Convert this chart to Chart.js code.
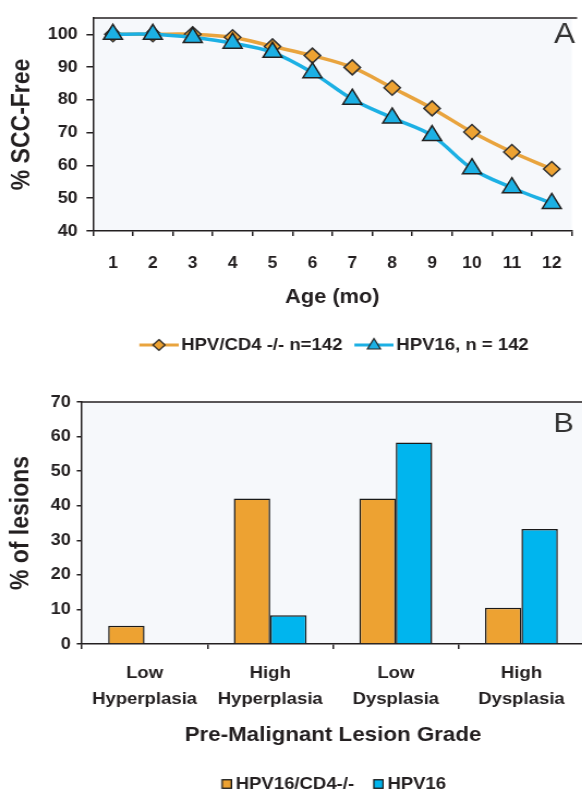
<!DOCTYPE html>
<html>
<head>
<meta charset="utf-8">
<script src="https://cdn.jsdelivr.net/npm/chart.js@4.4.1/dist/chart.umd.min.js"></script>
<style>
  html, body { margin: 0; padding: 0; background: #fff; overflow: hidden; width: 582px; height: 792px; }
  .panel { position: absolute; left: 0; transform: scaleX(1.09); transform-origin: 0 0; }
  #panelA { top: 0; }
  #panelB { top: 365px; }
</style>
</head>
<body>
<div class="panel" id="panelA"><canvas id="chartA" width="536" height="365"></canvas></div>
<div class="panel" id="panelB"><canvas id="chartB" width="536" height="438"></canvas></div>
<script>
// panel A - survival curves
const ages = ['1', '2', '3', '4', '5', '6', '7', '8', '9', '10', '11', '12'];
const cd4Free = [100, 100, 100, 99.1, 96.3, 93.5, 89.9, 83.7, 77.4, 70.2, 64.1, 58.9];
const hpv16Free = [100, 100, 99, 97.3, 94.5, 88.3, 80.2, 74.5, 69.1, 59, 53.2, 48.4];

// panel B - lesion grades
const grades = [['Low', 'Hyperplasia'], ['High', 'Hyperplasia'], ['Low', 'Dysplasia'], ['High', 'Dysplasia']];
const cd4Lesions = [5.3, 42.1, 42.1, 10.5];
const hpv16Lesions = [0, 8.3, 58.3, 33.3];

const ORANGE = '#eda232';
const ORANGE_LINE = '#e9a43e';
const BLUE = '#1cb0e4';
const BLUE_BAR = '#00b5ee';
const INK = '#231f20';

Chart.defaults.font.family = "'Liberation Sans', Arial, sans-serif";
Chart.defaults.font.weight = 'bold';
Chart.defaults.font.size = 16;
Chart.defaults.color = INK;

// plot background, top frame line and the panel letter
const frame = {
    id: 'frame',
    beforeDraw(chart) {
        const {ctx, chartArea: a} = chart;
        ctx.save();
        ctx.fillStyle = '#f6f8fb';
        ctx.fillRect(a.left, a.top, a.right - a.left, a.bottom - a.top);
        ctx.restore();
    },
    beforeDatasetsDraw(chart) {
        const {ctx, chartArea: a} = chart;
        ctx.save();
        ctx.strokeStyle = INK;
        ctx.lineWidth = 1.5;
        ctx.beginPath();
        ctx.moveTo(a.left, a.top);
        ctx.lineTo(a.right + 5, a.top);
        ctx.stroke();
        ctx.restore();
    },
    afterDraw(chart, args, opts) {
        const ctx = chart.ctx;
        ctx.save();
        ctx.font = `normal ${opts.size}px 'Liberation Sans', Arial, sans-serif`;
        ctx.fillStyle = '#333';
        ctx.textAlign = 'center';
        ctx.textBaseline = 'alphabetic';
        ctx.fillText(opts.letter, opts.x, opts.y);
        ctx.restore();
    }
};

// legend icons, drawn in the right part of the image so they sit close to the text
const makeIcon = (color, fill, shape) => {
    const c = document.createElement('canvas');
    c.width = 45; c.height = 16;
    const g = c.getContext('2d');
    g.strokeStyle = color;
    g.lineWidth = 3;
    g.beginPath(); g.moveTo(9, 8); g.lineTo(45, 8); g.stroke();
    g.fillStyle = fill;
    g.strokeStyle = '#222';
    g.lineWidth = 1.2;
    g.beginPath();
    if (shape === 'diamond') {
        g.moveTo(27, 2.5); g.lineTo(32.5, 8); g.lineTo(27, 13.5); g.lineTo(21.5, 8);
    } else {
        g.moveTo(27, 1.5); g.lineTo(33, 12); g.lineTo(21, 12);
    }
    g.closePath(); g.fill(); g.stroke();
    return c;
};
const makeSwatch = (fill) => {
    const c = document.createElement('canvas');
    c.width = 16; c.height = 10;
    const g = c.getContext('2d');
    g.fillStyle = fill;
    g.fillRect(7, 0.75, 8.5, 8.5);
    g.strokeStyle = '#1a1a1a';
    g.lineWidth = 1.3;
    g.strokeRect(7, 0.75, 8.5, 8.5);
    return c;
};
const lineIcons = [makeIcon(ORANGE_LINE, ORANGE, 'diamond'), makeIcon(BLUE, BLUE, 'triangle')];
const barIcons = [makeSwatch(ORANGE), makeSwatch(BLUE_BAR)];

const withIcons = (icons) => (chart) => Chart.defaults.plugins.legend.labels.generateLabels(chart)
    .map(item => ({...item, pointStyle: icons[item.datasetIndex]}));

const tickGrid = (len) => ({drawOnChartArea: false, drawTicks: true, tickLength: len, color: INK, lineWidth: 1.5});
const axisBorder = {color: INK, width: 1.5};

new Chart(document.getElementById('chartA'), {
    type: 'line',
    data: {
        labels: ages,
        datasets: [{
            label: 'HPV/CD4 -/- n=142',
            data: cd4Free,
            order: 1,
            borderColor: ORANGE_LINE,
            borderWidth: 3.5,
            tension: 0.35,
            pointStyle: 'rectRot',
            pointRadius: 7.5,
            pointBorderWidth: 1.5,
            pointBackgroundColor: ORANGE,
            pointBorderColor: '#333'
        }, {
            label: 'HPV16, n = 142',
            data: hpv16Free,
            order: 0,
            borderColor: BLUE,
            borderWidth: 3.5,
            tension: 0.35,
            pointStyle: 'triangle',
            pointRadius: 10,
            pointBorderWidth: 1.5,
            pointBackgroundColor: BLUE,
            pointBorderColor: '#222'
        }]
    },
    options: {
        responsive: false,
        animation: false,
        devicePixelRatio: 1,
        layout: {padding: {top: 12, bottom: 1.5, left: 0, right: 0}},
        scales: {
            x: {
                offset: true,
                grid: {...tickGrid(5), offset: true},
                border: axisBorder,
                ticks: {padding: 18, font: {size: 16}},
                title: {display: true, text: 'Age (mo)', font: {size: 20}, padding: {top: 0, bottom: 19.5}},
                afterFit: (s) => { s.height = 97.5; }
            },
            y: {
                min: 40,
                max: 105,
                grid: tickGrid(6),
                border: axisBorder,
                ticks: {stepSize: 10, includeBounds: false, padding: 8, font: {size: 16.5}},
                title: {display: true, text: '% SCC-Free', font: {size: 23}, padding: {top: 7, bottom: 0}},
                afterFit: (s) => { s.width = 85.3; }
            }
        },
        plugins: {
            frame: {letter: 'A', x: 518, y: 43, size: 29},
            tooltip: {enabled: false},
            legend: {
                position: 'bottom',
                fullSize: false,
                labels: {
                    usePointStyle: true,
                    pointStyleWidth: 33,
                    padding: 8,
                    font: {size: 17},
                    sort: (a, b) => a.datasetIndex - b.datasetIndex,
                    generateLabels: withIcons(lineIcons)
                }
            }
        }
    },
    plugins: [frame]
});

new Chart(document.getElementById('chartB'), {
    type: 'bar',
    data: {
        labels: grades,
        datasets: [{
            label: 'HPV16/CD4-/-',
            data: cd4Lesions,
            backgroundColor: ORANGE,
            borderColor: '#1a1a1a',
            borderWidth: 1.5
        }, {
            label: 'HPV16',
            data: hpv16Lesions,
            backgroundColor: BLUE_BAR,
            borderColor: '#1a1a1a',
            borderWidth: 1.5
        }]
    },
    options: {
        responsive: false,
        animation: false,
        devicePixelRatio: 1,
        categoryPercentage: 0.58,
        barPercentage: 1,
        layout: {padding: {top: 37, bottom: 0.5, left: 0, right: 0}},
        scales: {
            x: {
                grid: tickGrid(5),
                border: axisBorder,
                ticks: {padding: 12, font: {size: 17, lineHeight: 1.5}},
                title: {display: true, text: 'Pre-Malignant Lesion Grade', font: {size: 20.5}, padding: {top: 0, bottom: 12.2}},
                afterFit: (s) => { s.height = 115.5; }
            },
            y: {
                min: 0,
                max: 70,
                grid: tickGrid(4.6),
                border: axisBorder,
                ticks: {stepSize: 10, padding: 5.5, font: {size: 16.5}},
                title: {display: true, text: '% of lesions', font: {size: 23}, padding: {top: 6, bottom: 0}},
                afterFit: (s) => { s.width = 75; }
            }
        },
        plugins: {
            frame: {letter: 'B', x: 517, y: 67, size: 28},
            tooltip: {enabled: false},
            legend: {
                position: 'bottom',
                fullSize: false,
                labels: {
                    usePointStyle: true,
                    pointStyleWidth: 6,
                    padding: 16,
                    font: {size: 17},
                    generateLabels: withIcons(barIcons)
                }
            }
        }
    },
    plugins: [frame]
});
</script>
</body>
</html>
